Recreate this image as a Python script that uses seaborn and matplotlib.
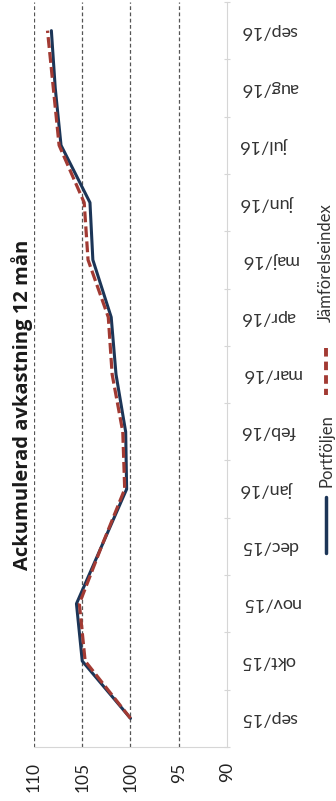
import matplotlib
matplotlib.use("Agg")
import matplotlib.pyplot as plt
from matplotlib.lines import Line2D
import numpy as np
import pandas as pd
import seaborn as sns

# Monthly index levels, start = 100
months = ["sep/15", "okt/15", "nov/15", "dec/15", "jan/16", "feb/16", "mar/16",
          "apr/16", "maj/16", "jun/16", "jul/16", "aug/16", "sep/16"]
portfoljen = [100.0, 105.0, 105.6, 103.0, 100.4, 100.5, 101.5,
              102.0, 103.9, 104.2, 107.2, 107.8, 108.2]
jamforelseindex = [100.0, 104.7, 105.3, 103.0, 100.6, 100.8, 101.9,
                   102.3, 104.4, 104.8, 107.4, 108.0, 108.6]
value_ticks = [90, 95, 100, 105, 110]
series_names = ["Portföljen", "Jämförelseindex"]
title = "Ackumulerad avkastning 12 mån"

NAVY = "#1c3557"
RED = "#a23a33"

sns.set_theme(style="white")
plt.rcParams["font.family"] = ["Lato", "DejaVu Sans"]

df = pd.DataFrame({
    "pos": list(range(len(months))) * 2,
    "value": portfoljen + jamforelseindex,
    "series": [series_names[0]] * len(months) + [series_names[1]] * len(months),
})

W, H = 336, 801
fig = plt.figure(figsize=(W / 100, H / 100), dpi=100)
ax = fig.add_axes([34 / W, 54 / H, (227 - 34) / W, 745 / H])

# value axis runs horizontally (110 at left), months run upward
sns.lineplot(data=df[df.series == series_names[0]], x="value", y="pos",
             orient="y", sort=False, color=NAVY, lw=2.2, ax=ax, legend=False)
sns.lineplot(data=df[df.series == series_names[1]], x="value", y="pos",
             orient="y", sort=False, color=RED, lw=2.3, ax=ax, legend=False)
ax.lines[1].set_dashes((3.4, 1.3))

ax.set_xlim(110, 90)
ax.set_ylim(-0.47, len(months) - 0.5)
ax.set_xlabel("")
ax.set_ylabel("")

ax.set_xticks(value_ticks)
ax.set_xticklabels([str(v) for v in value_ticks], rotation=90,
                   fontsize=12.5, color="#222222")
ax.tick_params(axis="x", length=0, pad=11)

ax.yaxis.tick_right()
ax.set_yticks(range(len(months)))
ax.set_yticklabels(months, rotation=180, fontsize=13, color="#333333",
                   va="center")
ax.tick_params(axis="y", which="major", length=0, pad=10)
ax.set_yticks(np.arange(len(months) + 1) - 0.5, minor=True)
ax.tick_params(axis="y", which="minor", length=4, color="#d6d6d6",
               direction="inout", width=0.8)

ax.grid(axis="x", linestyle=(0, (3, 2)), color="#555555", lw=0.9)
ax.grid(axis="y", visible=False)
ax.get_xgridlines()[0].set_visible(False)

for side in ("left", "top"):
    ax.spines[side].set_visible(False)
for side in ("right", "bottom"):
    ax.spines[side].set_color("#d6d6d6")
    ax.spines[side].set_linewidth(0.8)

fig.text(22 / W, 1 - 405 / H, title, rotation=90, ha="center", va="center",
         fontsize=14.5, fontweight="bold", color="#1a1a1a",
         family=["Open Sans", "DejaVu Sans"])

# legend, laid out along the right edge
fig.add_artist(Line2D([326 / W] * 2, [1 - 497 / H, 1 - 553 / H],
                      color=NAVY, lw=2.5))
fig.text(326 / W, 1 - 451 / H, series_names[0], rotation=90, ha="center",
         va="center", fontsize=12, color="#333333")
leg2 = Line2D([326 / W] * 2, [1 - 348 / H, 1 - 395 / H], color=RED, lw=2.8)
leg2.set_dashes((2.2, 1.3))
fig.add_artist(leg2)
fig.text(326 / W, 1 - 263 / H, series_names[1], rotation=90, ha="center",
         va="center", fontsize=12, color="#333333")

fig.savefig("out.png", dpi=100, facecolor="white")
